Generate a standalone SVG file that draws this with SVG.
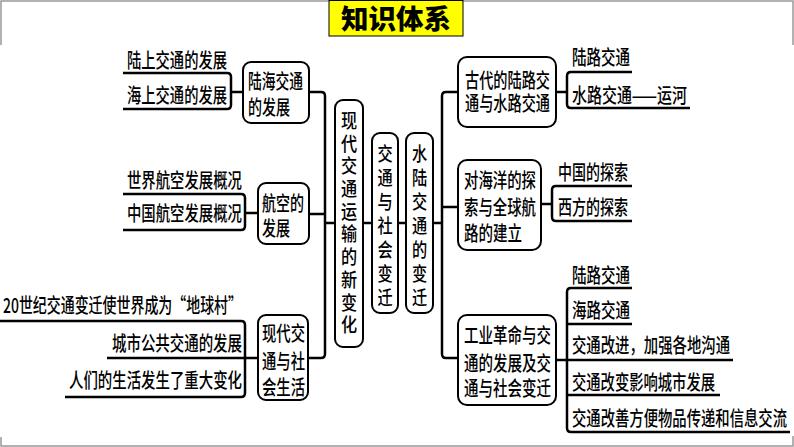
<svg xmlns="http://www.w3.org/2000/svg" width="794" height="447" viewBox="0 0 794 447">
<style>
.t{font-family:"Noto Sans CJK SC","Noto Sans CJK JP",sans-serif;font-size:20px;font-weight:500;fill:#000}
.v{font-family:"Noto Sans CJK SC","Noto Sans CJK JP",sans-serif;font-size:19px;font-weight:500;fill:#000;text-anchor:middle}
.box{fill:#fff;stroke:#000;stroke-width:2}
.ln{fill:none;stroke:#000;stroke-width:2.5;stroke-linejoin:round}
.fr{fill:none;stroke:#999;stroke-width:1.5}
</style>
<rect width="794" height="447" fill="#fff"/>
<g id="frame">
<path class="fr" d="M1,45 V1 H793 V45 M1,437 V446 H793 V436"/>
</g>
<g id="title">
<rect x="329" y="0.5" width="134" height="35.5" fill="#ffff00" stroke="#000" stroke-width="1"/>
<text x="396" y="29" text-anchor="middle" style="font-family:'Noto Sans CJK SC',sans-serif;font-size:27px;font-weight:900" fill="#000" textLength="110" lengthAdjust="spacingAndGlyphs">知识体系</text>
</g>
<g id="connectors">
<path class="ln" d="M123,73 H227 Q231,73 231,77 V105 Q231,109 227,109 H123 M231,92 H243"/>
<path class="ln" d="M123,194 H241 Q245,194 245,198 V226 Q245,230 241,230 H123 M245,213 H258"/>
<path class="ln" d="M0,321 H241 Q245,321 245,325 V393 Q245,397 241,397 H65 M107,358 H258"/>
<path class="ln" d="M309,92 H321 Q325,92 325,96 V354 Q325,358 321,358 H308 M309,214 H325 M325,223 H335"/>
<path class="ln" d="M363,223 H372 M398,223 H406 M433,223 H442"/>
<path class="ln" d="M458,92 H446 Q442,92 442,96 V354 Q442,358 446,358 H458 M442,207 H458"/>
<path class="ln" d="M632,72 H571 Q567,72 567,76 V104 Q567,108 571,108 H690 M556,92 H567"/>
<path class="ln" d="M632,186 H556 Q552,186 552,190 V217 Q552,221 556,221 H632 M541,204 H552"/>
<path class="ln" d="M632,288 H571 Q567,288 567,292 V428 Q567,432 571,432 H790 M567,324 H632 M556,360 H733 M567,395 H720"/>
</g>
<g id="leaf-l1"><text class="t" x="127" y="68" textLength="100" lengthAdjust="spacingAndGlyphs">陆上交通的发展</text></g>
<g id="leaf-l2"><text class="t" x="127" y="103" textLength="100" lengthAdjust="spacingAndGlyphs">海上交通的发展</text></g>
<g id="leaf-l3"><text class="t" x="127" y="188" textLength="115" lengthAdjust="spacingAndGlyphs">世界航空发展概况</text></g>
<g id="leaf-l4"><text class="t" x="127" y="221" textLength="115" lengthAdjust="spacingAndGlyphs">中国航空发展概况</text></g>
<g id="leaf-l5"><text class="t" x="3" y="313" textLength="239" lengthAdjust="spacingAndGlyphs">20世纪交通变迁使世界成为“地球村”</text></g>
<g id="leaf-l6"><text class="t" x="112" y="351" textLength="130" lengthAdjust="spacingAndGlyphs">城市公共交通的发展</text></g>
<g id="leaf-l7"><text class="t" x="69" y="388" textLength="173" lengthAdjust="spacingAndGlyphs">人们的生活发生了重大变化</text></g>
<g id="node-luhai">
<rect class="box" x="243" y="62" width="66" height="61" rx="8"/>
<text class="t" x="248" y="89" textLength="55" lengthAdjust="spacingAndGlyphs">陆海交通</text>
<text class="t" x="248" y="115" textLength="42" lengthAdjust="spacingAndGlyphs">的发展</text>
</g>
<g id="node-hangkong">
<rect class="box" x="258" y="183" width="51" height="61" rx="8"/>
<text class="t" x="262" y="211" textLength="42" lengthAdjust="spacingAndGlyphs">航空的</text>
<text class="t" x="262" y="236" textLength="28" lengthAdjust="spacingAndGlyphs">发展</text>
</g>
<g id="node-shehui">
<rect class="box" x="258" y="315" width="50" height="85" rx="8"/>
<text class="t" x="262" y="341" textLength="43" lengthAdjust="spacingAndGlyphs">现代交</text>
<text class="t" x="262" y="369" textLength="43" lengthAdjust="spacingAndGlyphs">通与社</text>
<text class="t" x="262" y="395" textLength="43" lengthAdjust="spacingAndGlyphs">会生活</text>
</g>
<g id="node-xiandai">
<rect class="box" x="335" y="100" width="28" height="247" rx="8"/>
<g transform="translate(349 0) scale(0.85 1)">
<text class="v"><tspan x="0" y="128">现</tspan><tspan x="0" y="150.7">代</tspan><tspan x="0" y="173.4">交</tspan><tspan x="0" y="196.1">通</tspan><tspan x="0" y="218.8">运</tspan><tspan x="0" y="241.5">输</tspan><tspan x="0" y="264.2">的</tspan><tspan x="0" y="286.9">新</tspan><tspan x="0" y="309.6">变</tspan><tspan x="0" y="332.3">化</tspan></text>
</g>
</g>
<g id="node-center">
<rect class="box" x="372" y="133" width="26" height="180" rx="8"/>
<g transform="translate(385 0) scale(0.8 1)">
<text class="v"><tspan x="0" y="161">交</tspan><tspan x="0" y="185">通</tspan><tspan x="0" y="209">与</tspan><tspan x="0" y="233">社</tspan><tspan x="0" y="257">会</tspan><tspan x="0" y="281">变</tspan><tspan x="0" y="305">迁</tspan></text>
</g>
</g>
<g id="node-shuilu">
<rect class="box" x="406" y="133" width="27" height="180" rx="8"/>
<g transform="translate(419.5 0) scale(0.8 1)">
<text class="v"><tspan x="0" y="161">水</tspan><tspan x="0" y="185">陆</tspan><tspan x="0" y="209">交</tspan><tspan x="0" y="233">通</tspan><tspan x="0" y="257">的</tspan><tspan x="0" y="281">变</tspan><tspan x="0" y="305">迁</tspan></text>
</g>
</g>
<g id="node-gudai">
<rect class="box" x="458" y="57" width="98" height="70" rx="9"/>
<text class="t" x="465" y="88" textLength="85" lengthAdjust="spacingAndGlyphs">古代的陆路交</text>
<text class="t" x="465" y="111" textLength="85" lengthAdjust="spacingAndGlyphs">通与水路交通</text>
</g>
<g id="node-haiyang">
<rect class="box" x="458" y="160" width="83" height="90" rx="9"/>
<text class="t" x="464" y="188" textLength="72" lengthAdjust="spacingAndGlyphs">对海洋的探</text>
<text class="t" x="464" y="215" textLength="72" lengthAdjust="spacingAndGlyphs">索与全球航</text>
<text class="t" x="464" y="241" textLength="58" lengthAdjust="spacingAndGlyphs">路的建立</text>
</g>
<g id="node-gongye">
<rect class="box" x="458" y="315" width="98" height="90" rx="9"/>
<text class="t" x="464" y="343" textLength="87" lengthAdjust="spacingAndGlyphs">工业革命与交</text>
<text class="t" x="464" y="371" textLength="87" lengthAdjust="spacingAndGlyphs">通的发展及交</text>
<text class="t" x="464" y="396" textLength="87" lengthAdjust="spacingAndGlyphs">通与社会变迁</text>
</g>
<g id="leaf-r1"><text class="t" x="572" y="65" textLength="58" lengthAdjust="spacingAndGlyphs">陆路交通</text></g>
<g id="leaf-r2"><text class="t" x="572" y="103" textLength="115" lengthAdjust="spacingAndGlyphs">水路交通——运河</text></g>
<g id="leaf-r3"><text class="t" x="558" y="180" textLength="70" lengthAdjust="spacingAndGlyphs">中国的探索</text></g>
<g id="leaf-r4"><text class="t" x="558" y="215" textLength="70" lengthAdjust="spacingAndGlyphs">西方的探索</text></g>
<g id="leaf-r5"><text class="t" x="572" y="283" textLength="58" lengthAdjust="spacingAndGlyphs">陆路交通</text></g>
<g id="leaf-r6"><text class="t" x="572" y="318" textLength="58" lengthAdjust="spacingAndGlyphs">海路交通</text></g>
<g id="leaf-r7"><text class="t" x="572" y="353" textLength="158" lengthAdjust="spacingAndGlyphs">交通改进，加强各地沟通</text></g>
<g id="leaf-r8"><text class="t" x="572" y="390" textLength="143" lengthAdjust="spacingAndGlyphs">交通改变影响城市发展</text></g>
<g id="leaf-r9"><text class="t" x="572" y="426" textLength="215" lengthAdjust="spacingAndGlyphs">交通改善方便物品传递和信息交流</text></g>
</svg>
